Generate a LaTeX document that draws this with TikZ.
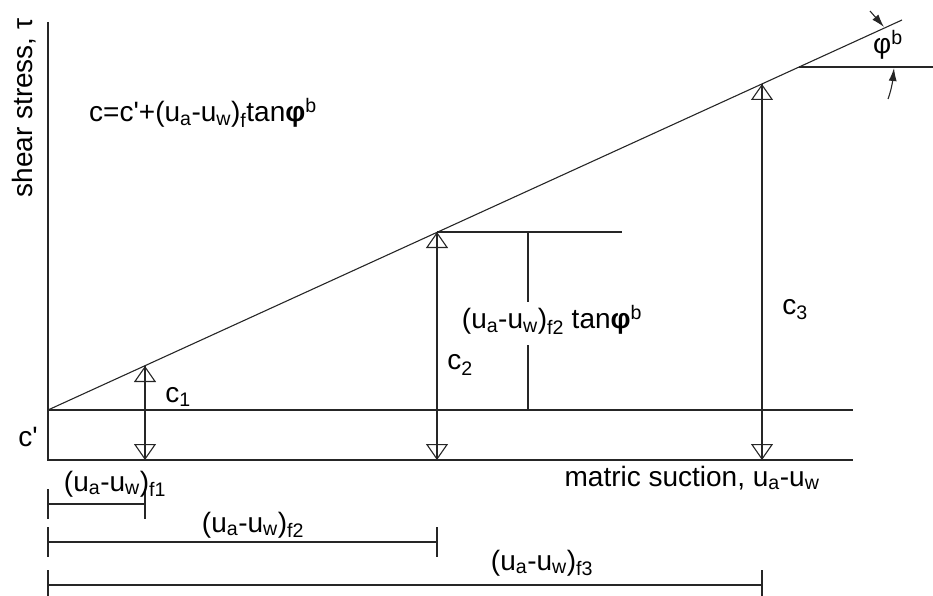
\documentclass[tikz,border=0pt]{standalone}
\usepackage{fontspec}
\setmainfont{Liberation Sans}
\usetikzlibrary{arrows.meta}
\tikzset{
  every node/.style={font=\fontsize{28}{30}\selectfont,inner sep=0pt},
  axis/.style={draw=black!85,line width=1.2pt},
  guide/.style={draw=black!85,line width=1.1pt},
  cohesion/.style={guide,{Triangle[open,width=22pt,length=16pt,line width=1.1pt]}-{Triangle[open,width=22pt,length=16pt,line width=1.1pt]}},
  angarrow/.style={guide,-{Latex[length=13pt,width=8pt]}}
}
\newcommand{\uaw}{(u\textsubscript{a}-u\textsubscript{w})}
\newcommand{\prm}{\textquotesingle}

\begin{document}
\begin{tikzpicture}[x=1pt,y=-1pt]
  \useasboundingbox (0,0) rectangle (933,596);

  % Axes and the c' level.
  \coordinate (origin) at (48,460);
  \coordinate (ytop) at (48,22);
  \coordinate (xend) at (853,460);
  \coordinate (cprime) at (48,410);
  \coordinate (cprime-end) at (853,410);
  \draw[axis] (ytop) -- (origin) -- (xend);
  \draw[guide] (cprime) -- (cprime-end);

  % Failure envelope and the points at the three suctions.
  \coordinate (env-end) at (902,20);
  \coordinate (p1) at (145,366);
  \coordinate (p2) at (437,232);
  \coordinate (p3) at (762,84);
  \coordinate (pref) at (799,67);
  \draw[guide] (cprime) -- (env-end);

  % Cohesion intercepts.
  \draw[cohesion] (p1) -- (145,460);
  \draw[cohesion] (p2) -- (437,460);
  \draw[cohesion] (p3) -- (762,460);
  \draw[guide] (145,366) -- (145,460);
  \draw[guide] (437,232) -- (437,460);
  \draw[guide] (762,84) -- (762,460);

  % Increase of cohesion at the second suction.
  \coordinate (rise-top) at (528,232);
  \draw[guide] (p2) -- (622,232);
  \draw[guide] (rise-top) -- (528,302);
  \draw[guide] (528,345) -- (528,410);

  % Angle phi^b.
  \draw[guide] (pref) -- (933,67);
  \draw[angarrow] (870,11) -- (884,27);
  \draw[angarrow] (888,99) .. controls (892,88) and (893,78) .. (894,68);

  % Suction dimension lines.
  \foreach \xr/\yy in {145/504,437/542,762/585} {
    \draw[guide] (48,\yy) -- (\xr,\yy);
    \draw[guide] (\xr,\yy-15) -- (\xr,\yy+15);
    \draw[guide] (48,\yy-15) -- (48,\yy+15);
  }

  % Labels.
  \node[rotate=90] (ylabel) at (24,108) {shear stress, τ};
  \node (formula) at (203,113) {c=c\prm+\uaw\textsubscript{f}tan\textbf{φ}\textsuperscript{b}};
  \node (rise-label) at (552,320) {\uaw\textsubscript{f2} tan\textbf{φ}\textsuperscript{b}};
  \node (c1) at (178,397) {c\textsubscript{1}};
  \node (c2) at (460,365) {c\textsubscript{2}};
  \node (c3) at (795,310) {c\textsubscript{3}};
  \node (cp) at (28,437) {c\prm};
  \node (xlabel) at (692,478) {matric suction, u\textsubscript{a}-u\textsubscript{w}};
  \node (f1) at (115,484) {\uaw\textsubscript{f1}};
  \node (f2) at (253,525) {\uaw\textsubscript{f2}};
  \node (f3) at (542,563) {\uaw\textsubscript{f3}};
  \node (phib) at (888,45) {φ\textsuperscript{b}};
\end{tikzpicture}
\end{document}
